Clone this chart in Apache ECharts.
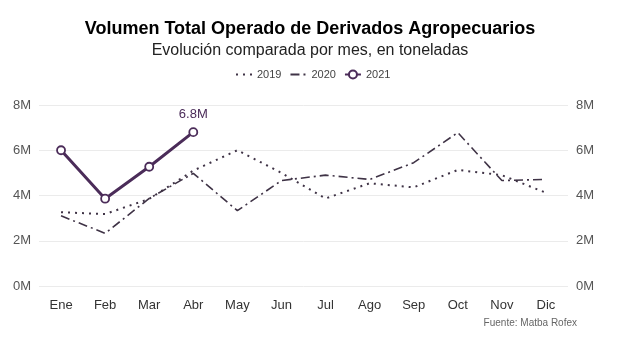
<!DOCTYPE html>
<html><head><meta charset="utf-8">
<script src="https://cdn.jsdelivr.net/npm/echarts@6/dist/echarts.min.js"></script>
<style>html,body{margin:0;padding:0;background:#fff}#c{width:640px;height:340px}</style>
</head><body><div id="c"></div>
<script>
const months = ['Ene','Feb','Mar','Abr','May','Jun','Jul','Ago','Sep','Oct','Nov','Dic'];
const v2019 = [3.26,3.18,3.85,5.1,6.0,5.0,3.87,4.54,4.36,5.13,4.9,4.12];
const v2020 = [3.1,2.33,3.87,4.98,3.33,4.66,4.9,4.71,5.45,6.78,4.66,4.71];
const v2021 = [6.0,3.86,5.27,6.8];
const yTicks = [0,2,4,6,8];

const chart = echarts.init(document.getElementById('c'), null, {renderer:'canvas'});
const fmt = v => v + 'M';
const axisLabelStyle = {color:'#555', fontSize:13, fontFamily:'Liberation Sans, Arial'};
chart.setOption({
  animation:false,
  title:[
    {text:'Volumen Total Operado de Derivados Agropecuarios', left:305, top:15, textAlign:'center',
     textStyle:{fontSize:18, fontWeight:'bold', color:'#000', fontFamily:'Liberation Sans, Arial'}},
    {text:'Evolución comparada por mes, en toneladas', left:305, top:38, textAlign:'center',
     textStyle:{fontSize:16, fontWeight:'normal', color:'#222', fontFamily:'Liberation Sans, Arial'}},
    {text:'Fuente: Matba Rofex', right:58, top:313,
     textStyle:{fontSize:10, fontWeight:'normal', color:'#666', fontFamily:'Liberation Sans, Arial'}}
  ],
  legend:{left:230, top:64, itemWidth:16, itemHeight:10, itemGap:8,
    textStyle:{fontSize:11, color:'#444', fontFamily:'Liberation Sans, Arial'},
    data:[{name:'2019', itemStyle:{opacity:0}},{name:'2020', itemStyle:{opacity:0}},{name:'2021'}]},
  grid:{left:39, right:72, top:105, bottom:54, containLabel:false},
  xAxis:{type:'category', data:months, boundaryGap:true,
    axisLine:{show:false}, axisTick:{show:false}, splitLine:{show:false},
    axisLabel:{...axisLabelStyle, color:'#333', margin:13}},
  yAxis:[
    {type:'value', min:0, max:8, interval:2, position:'left',
     axisLabel:{...axisLabelStyle, formatter:fmt, margin:8},
     splitLine:{lineStyle:{color:'#ebebeb', width:1}}, axisLine:{show:false}, axisTick:{show:false}},
    {type:'value', min:0, max:8, interval:2, position:'right',
     axisLabel:{...axisLabelStyle, formatter:fmt, margin:8},
     splitLine:{show:false}, axisLine:{show:false}, axisTick:{show:false}}
  ],
  series:[
    {name:'2019', type:'line', data:v2019, symbol:'none', color:'#3f3346',
     lineStyle:{type:[2,5], width:2, color:'#3f3346'}},
    {name:'2020', type:'line', data:v2020, symbol:'none', color:'#3f3346',
     lineStyle:{type:[9,4,2,4], width:1.6, color:'#3f3346'}},
    {name:'2021', type:'line', data:v2021, symbol:'circle', symbolSize:8, color:'#4b2c59',
     itemStyle:{color:'#fff', borderColor:'#4b2c59', borderWidth:1.8},
     lineStyle:{width:3, color:'#4b2c59'},
     label:{show:true, position:'top', distance:6, color:'#4b2c59', fontSize:13,
       fontFamily:'Liberation Sans, Arial',
       formatter:p => p.dataIndex === v2021.length-1 ? p.value + 'M' : ''}}
  ]
});
</script></body></html>
